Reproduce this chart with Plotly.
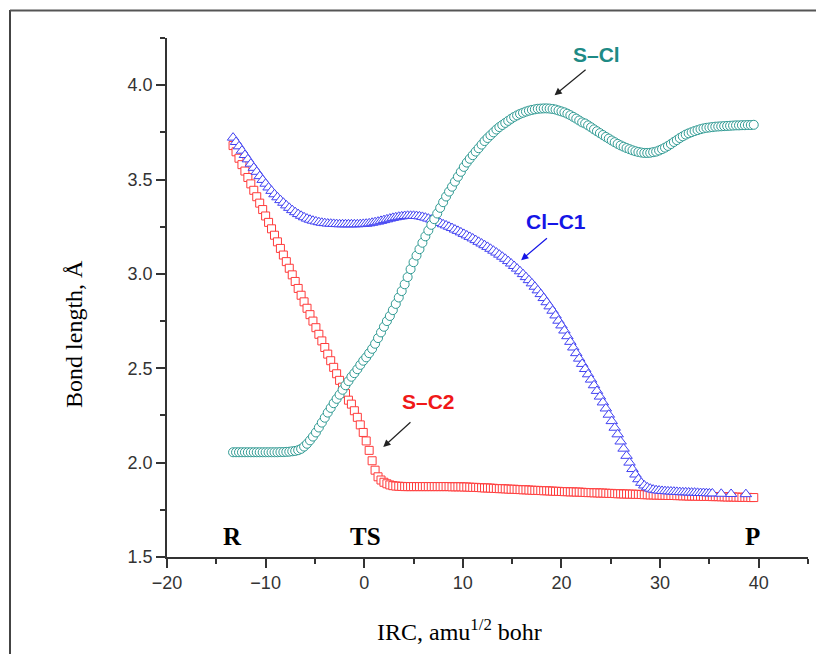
import plotly.graph_objects as go

# IRC grid (amu^1/2 bohr), step 0.3 starting at -13.3 (177 points, up to 39.5)
IRC_START = -13.3
IRC_STEP = 0.3
N = 177
irc = [round(IRC_START + IRC_STEP * k, 1) for k in range(N)]

# S-Cl bond length (teal circles)
s_cl = [
    2.055, 2.055, 2.055, 2.055, 2.055, 2.055, 2.055, 2.055, 2.055, 2.055,
    2.055, 2.055, 2.055, 2.055, 2.055, 2.055, 2.056, 2.056, 2.057, 2.058,
    2.060, 2.062, 2.066, 2.073, 2.085, 2.100, 2.118, 2.138, 2.160, 2.186,
    2.212, 2.238, 2.265, 2.290, 2.315, 2.338, 2.360, 2.386, 2.410, 2.432,
    2.455, 2.474, 2.495, 2.518, 2.540, 2.558, 2.580, 2.603, 2.630, 2.660,
    2.690, 2.720, 2.750, 2.777, 2.808, 2.841, 2.875, 2.909, 2.945, 2.983,
    3.025, 3.062, 3.097, 3.131, 3.165, 3.199, 3.230, 3.260, 3.290, 3.320,
    3.350, 3.380, 3.410, 3.436, 3.462, 3.489, 3.515, 3.541, 3.567, 3.590,
    3.610, 3.629, 3.648, 3.666, 3.685, 3.704, 3.720, 3.735, 3.750, 3.765,
    3.778, 3.789, 3.800, 3.811, 3.822, 3.832, 3.840, 3.848, 3.854, 3.860,
    3.865, 3.869, 3.872, 3.875, 3.876, 3.877, 3.877, 3.876, 3.874, 3.871,
    3.866, 3.861, 3.856, 3.849, 3.841, 3.832, 3.823, 3.813, 3.803, 3.797,
    3.787, 3.777, 3.766, 3.756, 3.746, 3.736, 3.726, 3.717, 3.707, 3.698,
    3.689, 3.681, 3.674, 3.667, 3.661, 3.655, 3.650, 3.646, 3.643, 3.641,
    3.641, 3.642, 3.645, 3.648, 3.654, 3.661, 3.669, 3.678, 3.688, 3.699,
    3.709, 3.720, 3.729, 3.738, 3.745, 3.751, 3.757, 3.762, 3.767, 3.771,
    3.774, 3.776, 3.778, 3.780, 3.781, 3.782, 3.783, 3.784, 3.785, 3.786,
    3.787, 3.787, 3.788, 3.788, 3.789, 3.789, 3.790,
]

# S-C2 bond length (red squares)
s_c2 = [
    3.680, 3.647, 3.613, 3.579, 3.545, 3.511, 3.477, 3.443, 3.409, 3.375,
    3.341, 3.307, 3.273, 3.239, 3.205, 3.170, 3.135, 3.100, 3.065, 3.030,
    2.995, 2.960, 2.923, 2.887, 2.852, 2.818, 2.784, 2.750, 2.715, 2.680,
    2.645, 2.610, 2.575, 2.540, 2.505, 2.471, 2.436, 2.400, 2.366, 2.331,
    2.310, 2.275, 2.240, 2.200, 2.160, 2.115, 2.065, 2.010, 1.960, 1.925,
    1.908, 1.896, 1.888, 1.882, 1.878, 1.876, 1.875, 1.874, 1.873, 1.873,
    1.873, 1.873, 1.873, 1.873, 1.873, 1.873, 1.873, 1.873, 1.873, 1.873,
    1.873, 1.873, 1.873, 1.873, 1.872, 1.872, 1.872, 1.872, 1.871, 1.871,
    1.870, 1.869, 1.869, 1.868, 1.867, 1.866, 1.866, 1.865, 1.864, 1.863,
    1.862, 1.862, 1.861, 1.860, 1.859, 1.859, 1.858, 1.857, 1.856, 1.856,
    1.855, 1.854, 1.853, 1.853, 1.852, 1.851, 1.851, 1.850, 1.849, 1.848,
    1.848, 1.847, 1.846, 1.846, 1.845, 1.845, 1.844, 1.844, 1.843, 1.842,
    1.841, 1.841, 1.840, 1.840, 1.839, 1.839, 1.838, 1.837, 1.837, 1.836,
    1.835, 1.835, 1.834, 1.834, 1.833, 1.833, 1.832, 1.832, 1.831, 1.830,
    1.830, 1.829, 1.829, 1.828, 1.828, 1.827, 1.827, 1.826, 1.826, 1.826,
    1.825, 1.825, 1.824, 1.824, 1.823, 1.823, 1.823, 1.822, 1.822, 1.821,
    1.821, 1.821, 1.820, 1.820, 1.820, 1.819, 1.819, 1.818, 1.818, 1.818,
    1.817, 1.817, 1.816, 1.816, 1.816, 1.815, 1.815,
]

# Cl-C1 bond length (blue triangles): dense part (to 35.3) + three sparse final points
cl_c1_dense = [
    3.722, 3.699, 3.676, 3.653, 3.630, 3.607, 3.584, 3.562, 3.541, 3.518,
    3.498, 3.478, 3.458, 3.440, 3.422, 3.406, 3.391, 3.377, 3.363, 3.350,
    3.338, 3.327, 3.317, 3.308, 3.300, 3.293, 3.287, 3.282, 3.278, 3.274,
    3.271, 3.269, 3.267, 3.266, 3.265, 3.264, 3.263, 3.263, 3.263, 3.263,
    3.263, 3.263, 3.263, 3.264, 3.265, 3.266, 3.268, 3.271, 3.274, 3.277,
    3.281, 3.285, 3.289, 3.293, 3.297, 3.300, 3.303, 3.305, 3.307, 3.308,
    3.308, 3.308, 3.307, 3.305, 3.302, 3.298, 3.293, 3.288, 3.283, 3.277,
    3.270, 3.263, 3.257, 3.250, 3.243, 3.235, 3.228, 3.220, 3.212, 3.204,
    3.196, 3.188, 3.179, 3.170, 3.161, 3.152, 3.143, 3.133, 3.123, 3.113,
    3.102, 3.091, 3.080, 3.068, 3.055, 3.042, 3.028, 3.014, 2.999, 2.983,
    2.967, 2.950, 2.932, 2.913, 2.893, 2.872, 2.850, 2.828, 2.805, 2.780,
    2.752, 2.727, 2.700, 2.670, 2.640, 2.610, 2.580, 2.551, 2.523, 2.496,
    2.468, 2.440, 2.410, 2.380, 2.350, 2.319, 2.287, 2.254, 2.220, 2.185,
    2.150, 2.112, 2.074, 2.036, 2.000, 1.966, 1.937, 1.912, 1.893, 1.879,
    1.869, 1.862, 1.857, 1.854, 1.852, 1.850, 1.849, 1.848, 1.847, 1.846,
    1.845, 1.844, 1.843, 1.843, 1.842, 1.841, 1.841, 1.840, 1.839, 1.839,
    1.838, 1.837, 1.837,
]
cl_c1_tail_irc = [36.2, 37.2, 38.7]
cl_c1_tail = [1.835, 1.834, 1.833]

cl_c1_irc = irc[:len(cl_c1_dense)] + cl_c1_tail_irc
cl_c1 = cl_c1_dense + cl_c1_tail

X_TICKS = [-20, -10, 0, 10, 20, 30, 40]
Y_TICKS = [1.5, 2.0, 2.5, 3.0, 3.5, 4.0]

TEAL = "#2f9a93"
BLUE = "#4242f2"
RED = "#ff3b3b"

fig = go.Figure()
fig.add_trace(go.Scatter(
    x=irc, y=s_c2, mode="markers", name="S-C2",
    marker=dict(symbol="square", size=8, color="white",
                line=dict(color=RED, width=1)),
))
fig.add_trace(go.Scatter(
    x=cl_c1_irc, y=cl_c1, mode="markers", name="Cl-C1",
    marker=dict(symbol="triangle-up", size=10, color="white",
                line=dict(color=BLUE, width=1)),
))
fig.add_trace(go.Scatter(
    x=irc, y=s_cl, mode="markers", name="S-Cl",
    marker=dict(symbol="circle", size=9, color="white",
                line=dict(color=TEAL, width=1)),
))

tick_font = dict(family="Liberation Sans, Arial, sans-serif", size=18, color="#333333")
axis_common = dict(
    showline=True, linecolor="#333333", linewidth=1.5,
    ticks="outside", ticklen=9, tickwidth=1.5, tickcolor="#333333",
    showgrid=False, zeroline=False, mirror=False,
    tickfont=tick_font,
)
fig.update_xaxes(
    range=[-20, 45], tickvals=X_TICKS,
    minor=dict(ticks="outside", ticklen=5, tickwidth=1.5, tickcolor="#333333",
               dtick=5, tick0=0, showgrid=False),
    **axis_common,
)
fig.update_yaxes(
    range=[1.5, 4.25], tickvals=Y_TICKS, tickformat=".1f",
    minor=dict(ticks="outside", ticklen=5, tickwidth=1.5, tickcolor="#333333",
               dtick=0.25, tick0=0, showgrid=False),
    **axis_common,
)

serif = "Liberation Serif, Times New Roman, serif"
sans = "Liberation Sans, Arial, sans-serif"
annotations = [
    # axis titles
    dict(text="Bond length, Å", xref="paper", yref="paper", x=-0.145, y=0.43,
         textangle=-90, showarrow=False, xanchor="center", yanchor="middle",
         font=dict(family=serif, size=24, color="black")),
    dict(text="IRC, amu<sup>1/2</sup> bohr", xref="paper", yref="paper", x=0.457, y=-0.14,
         showarrow=False, xanchor="center", yanchor="middle",
         font=dict(family=serif, size=24, color="black")),
    # R / TS / P
    dict(text="<b>R</b>", x=-13.4, y=1.606, showarrow=False,
         font=dict(family=serif, size=25, color="black")),
    dict(text="<b>TS</b>", x=0.1, y=1.606, showarrow=False,
         font=dict(family=serif, size=25, color="black")),
    dict(text="<b>P</b>", x=39.4, y=1.606, showarrow=False,
         font=dict(family=serif, size=25, color="black")),
    # curve labels
    dict(text="<b>S–Cl</b>", x=23.55, y=4.164, showarrow=False,
         font=dict(family=sans, size=21, color="#1e8a85")),
    dict(text="<b>Cl–C1</b>", x=19.42, y=3.277, showarrow=False,
         font=dict(family=sans, size=21, color="#1515e6")),
    dict(text="<b>S–C2</b>", x=6.5, y=2.325, showarrow=False,
         font=dict(family=sans, size=21, color="#f01818")),
    # arrows
    dict(text="", x=19.3, y=3.947, ax=22.6, ay=4.088, axref="x", ayref="y",
         showarrow=True, arrowhead=2, arrowsize=1.2, arrowwidth=1.2, arrowcolor="#222222"),
    dict(text="", x=15.91, y=3.073, ax=18.68, ay=3.196, axref="x", ayref="y",
         showarrow=True, arrowhead=2, arrowsize=1.2, arrowwidth=1.2, arrowcolor="#1515e6"),
    dict(text="", x=1.93, y=2.083, ax=4.84, ay=2.221, axref="x", ayref="y",
         showarrow=True, arrowhead=2, arrowsize=1.2, arrowwidth=1.2, arrowcolor="#222222"),
]

W, H = 816, 654
ML, MR, MT, MB = 167, 8, 38, 97
pw, ph = W - ML - MR, H - MT - MB

def px_x(p):
    return (p - ML) / pw

def px_y(p):
    return (H - MB - p) / ph

shapes = [
    dict(type="line", xref="paper", yref="paper",
         x0=px_x(10), x1=px_x(10), y0=px_y(10), y1=px_y(H + 5),
         line=dict(color="#444444", width=2)),
    dict(type="line", xref="paper", yref="paper",
         x0=px_x(10), x1=px_x(W + 5), y0=px_y(10.5), y1=px_y(10.5),
         line=dict(color="#555555", width=2)),
]

fig.update_layout(
    width=W, height=H,
    margin=dict(l=ML, r=MR, t=MT, b=MB),
    plot_bgcolor="white", paper_bgcolor="white",
    showlegend=False,
    annotations=annotations,
    shapes=shapes,
)

fig.write_html("out.html")
